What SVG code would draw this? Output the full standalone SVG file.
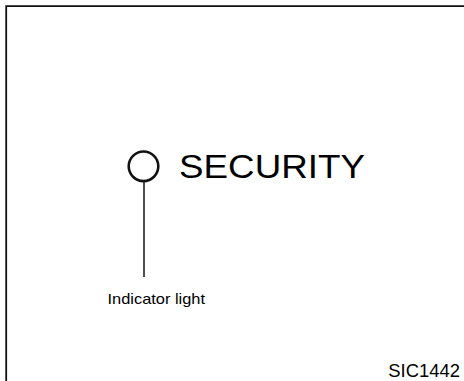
<svg xmlns="http://www.w3.org/2000/svg" width="464" height="381" viewBox="0 0 464 381">
<style>
.t{font-family:"Liberation Sans",Arial,Helvetica,sans-serif;fill:#000}
.ln{stroke:#111;fill:none}
</style>
<rect width="464" height="381" fill="#fff"/>
<g id="frame">
<path class="ln" d="M6.2,381 V6.2 H464" stroke-width="1.8"/>
</g>
<g id="indicator-light">
<circle cx="143.5" cy="166.3" r="14.8" class="ln" stroke-width="2.6"/>
</g>
<g id="connectors">
<line class="ln" x1="144" y1="181" x2="144" y2="277" stroke-width="1.5"/>
</g>
<g id="security-label">
<text class="t" x="179" y="178.3" font-size="33" textLength="186" lengthAdjust="spacingAndGlyphs">SECURITY</text>
</g>
<g id="indicator-label">
<text class="t" x="107.5" y="303.8" font-size="15" textLength="97.5" lengthAdjust="spacingAndGlyphs">Indicator light</text>
</g>
<g id="figure-id">
<text class="t" x="388.3" y="377.3" font-size="17.5" textLength="71.7" lengthAdjust="spacingAndGlyphs">SIC1442</text>
</g>
</svg>
